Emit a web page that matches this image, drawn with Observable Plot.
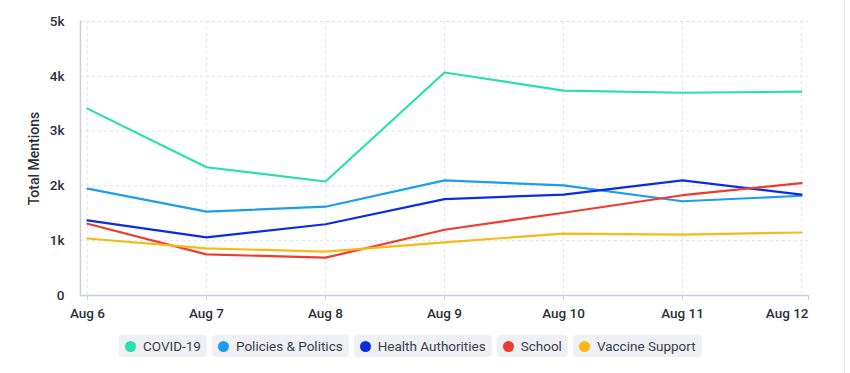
<!DOCTYPE html>
<html>
<head>
<meta charset="utf-8">
<script src="https://cdn.jsdelivr.net/npm/d3@7"></script>
<script src="https://cdn.jsdelivr.net/npm/@observablehq/plot@0.6"></script>
<style>
  body { margin: 0; background: #fff; font-family: Roboto, "Noto Sans", sans-serif; }
  #chart { width: 850px; height: 373px; position: relative; }
  #edge { position: absolute; left: 844px; top: 0; width: 1px; height: 373px; background: #e6e8ec; }
  #legend { display: flex; gap: 5px; margin-left: 119px; margin-top: 7px; }
  .item { display: flex; align-items: center; background: #eef0f4; border-radius: 4px; height: 22px; padding: 0 6px 0 6px; font-size: 13.5px; color: #3a3f4a; }
  .dot { width: 11px; height: 11px; border-radius: 50%; margin-right: 7px; }
</style>
</head>
<body>
<div id="chart"><div id="edge"></div></div>
<script>
const dates = ["Aug 6", "Aug 7", "Aug 8", "Aug 9", "Aug 10", "Aug 11", "Aug 12"];
const seriesNames = ["COVID-19", "Policies & Politics", "Health Authorities", "School", "Vaccine Support"];
const seriesColors = ["#27e0ab", "#1d9cf0", "#0b2de0", "#ef3b2f", "#f7b915"];
const covid = [3410, 2340, 2080, 4070, 3740, 3700, 3720];
const policies = [1950, 1530, 1620, 2100, 2010, 1720, 1820];
const health = [1370, 1060, 1300, 1760, 1840, 2100, 1840];
const school = [1310, 750, 690, 1200, 1510, 1830, 2050];
const vaccine = [1040, 860, 800, 970, 1130, 1110, 1150];
const yTicks = [0, 1000, 2000, 3000, 4000, 5000];

const allValues = [covid, policies, health, school, vaccine];
const data = [];
seriesNames.forEach((s, i) => dates.forEach((d, j) => data.push({series: s, date: d, value: allValues[i][j]})));

const lastDate = dates[dates.length - 1];
const plot = Plot.plot({
  width: 850,
  height: 328,
  marginLeft: 80,
  marginRight: 42,
  marginTop: 21,
  marginBottom: 33,
  insetLeft: 7,
  insetRight: 7,
  style: {fontFamily: "Roboto, sans-serif", fontSize: "13px", color: "#2b2f38", position: "absolute", top: "0px", left: "0px"},
  x: {type: "point", domain: dates, padding: 0},
  y: {domain: [0, 5000]},
  color: {domain: seriesNames, range: seriesColors},
  marks: [
    Plot.gridY(yTicks, {stroke: "#dde1e8", strokeOpacity: 1, strokeDasharray: "3,3"}),
    Plot.gridX(dates, {stroke: "#e4e7ee", strokeOpacity: 1, strokeDasharray: "3,3"}),
    Plot.ruleY([0], {stroke: "#c9ced9", strokeWidth: 1.5}),
    Plot.frame({anchor: "left", stroke: "#c9ced9", strokeWidth: 1.5}),
    Plot.axisY(yTicks, {tickSize: 0, tickPadding: 16, tickFormat: d => d === 0 ? "0" : (d / 1000) + "k", fontWeight: 500, fontSize: 13.5, label: null}),
    Plot.text(["Total Mentions"], {frameAnchor: "left", textAnchor: "middle", dx: -46, rotate: -90, fontSize: 14, fontWeight: 500, fill: "#2b2f38"}),
    Plot.axisX(dates.slice(0, -1), {tickSize: 5, stroke: "#c9ced9", tickPadding: 8, fontWeight: 500, fontSize: 13.5, label: null}),
    Plot.axisX([lastDate], {tickSize: 5, stroke: "#c9ced9", tickPadding: 8, fontWeight: 500, fontSize: 13.5, label: null, textAnchor: "end", dx: 7}),
    Plot.line(data, {x: "date", y: "value", z: "series", stroke: "series", strokeWidth: 2.2})
  ]
});
const chart = document.getElementById("chart");
chart.appendChild(plot);

const legend = document.createElement("div");
legend.id = "legend";
legend.style.position = "absolute";
legend.style.top = "328px";
seriesNames.forEach((s, i) => {
  const it = document.createElement("div");
  it.className = "item";
  it.innerHTML = `<span class="dot" style="background:${seriesColors[i]}"></span>${s.replace("&", "&amp;")}`;
  legend.appendChild(it);
});
chart.appendChild(legend);
</script>
</body>
</html>
